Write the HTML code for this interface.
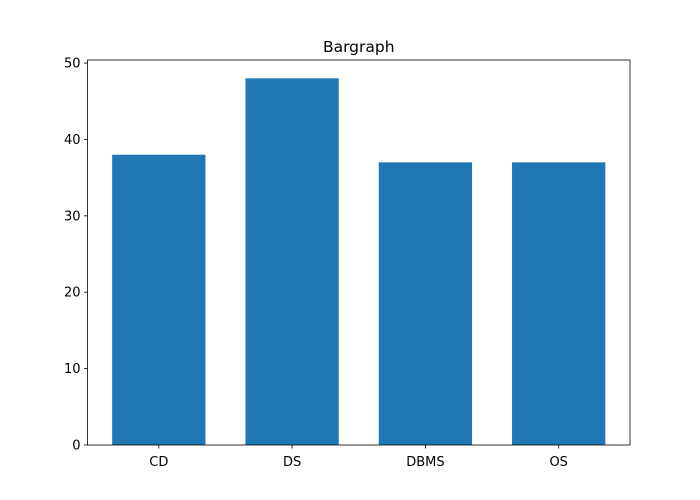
<!DOCTYPE html>
<html><head><meta charset="utf-8"><style>body{margin:0;background:#fff}svg{display:block}text{font-family:"DejaVu Sans","Liberation Sans",sans-serif;fill:#000}</style></head>
<body>
<svg id="chart" width="700" height="500" xmlns="http://www.w3.org/2000/svg"></svg>
<script>
const categories = ["CD","DS","DBMS","OS"];
const values = [38,48,37,37];
const yTicks = [0,10,20,30,40,50];
const title = "Bargraph";

const svg = document.getElementById('chart');
const NS = "http://www.w3.org/2000/svg";
const L=87.5,R=630,T=60,B=445;
const barW=0.7;
const xmin=-barW/2-(categories.length-1+barW)*0.05, xmax=categories.length-1+barW/2+(categories.length-1+barW)*0.05;
const ymax=Math.max(...values)*1.05;
const xs=v=>L+(v-xmin)/(xmax-xmin)*(R-L);
const ys=v=>B-v/ymax*(B-T);
function mk(tag,attrs,parent){const e=document.createElementNS(NS,tag);for(const k in attrs)e.setAttribute(k,attrs[k]);(parent||svg).appendChild(e);return e;}

categories.forEach((c,i)=>{
  const r=mk('rect',{x:xs(i-barW/2),y:ys(values[i]),width:xs(i+barW/2)-xs(i-barW/2),height:B-ys(values[i]),fill:'#1f77b4'});
  
  
  const tk=mk('line',{x1:xs(i),x2:xs(i),y1:B,y2:B+3.5,stroke:'#000','stroke-width':0.8});
  
  
  const t=mk('text',{x:xs(i),y:B+21,'text-anchor':'middle','font-size':'13'});
  t.textContent=c;
  
  
});
yTicks.forEach(v=>{
  const tk=mk('line',{x1:L-3.5,x2:L,y1:ys(v),y2:ys(v),stroke:'#000','stroke-width':0.8});
  
  
  const t=mk('text',{x:L-7,y:ys(v)+4.5,'text-anchor':'end','font-size':'13'});
  t.textContent=v;
  
  
});
const fr=mk('rect',{x:L,y:T,width:R-L,height:B-T,fill:'none',stroke:'#000','stroke-width':0.8});


const tt=mk('text',{x:(L+R)/2,y:T-8,'text-anchor':'middle','font-size':'15.5'});
tt.textContent=title;


</script>
</body></html>
